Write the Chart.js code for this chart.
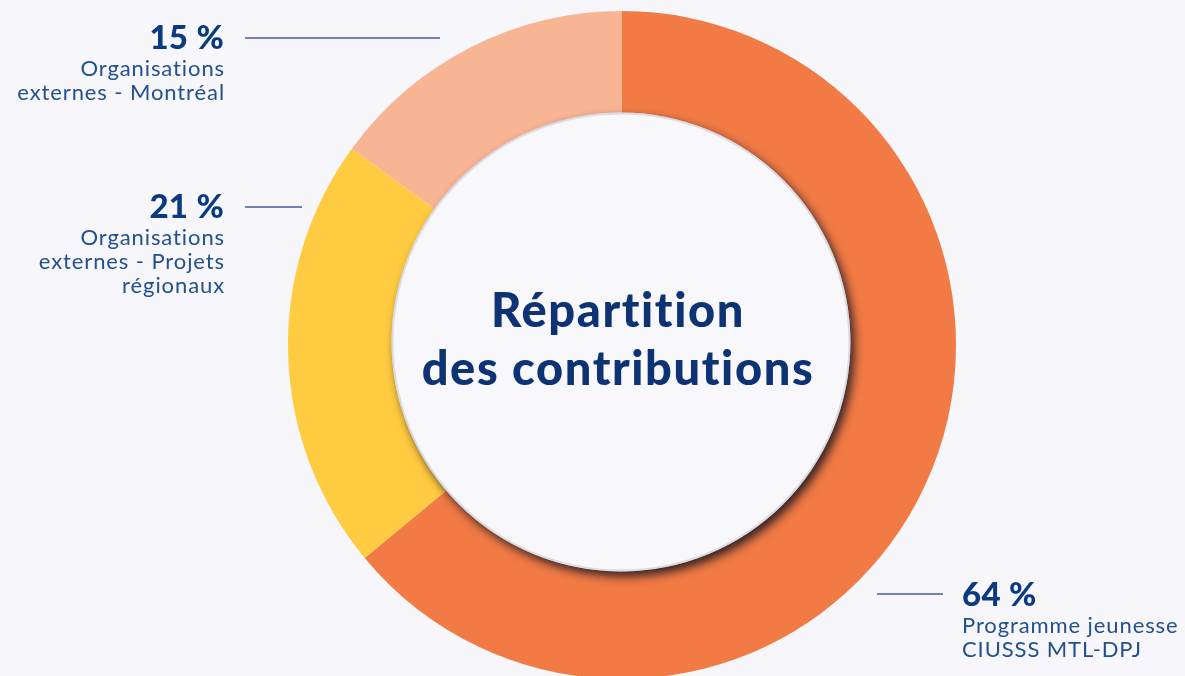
<!DOCTYPE html>
<html>
<head>
<meta charset="utf-8">
<script src="https://cdn.jsdelivr.net/npm/chart.js@4/dist/chart.umd.min.js"></script>
<style>
  html, body { margin:0; padding:0; background:#F6F6FB; overflow:hidden; }
  #wrap { position:relative; width:1185px; height:676px; overflow:hidden; background:#F6F6FB; }
  canvas { position:absolute; left:0; top:0; }
  .lbl { position:absolute; font-family:"Lato", sans-serif; white-space:nowrap; font-variant-ligatures:none; }
  .pct { font-weight:900; font-size:33px; line-height:33px; color:#0B3A80; letter-spacing:0.3px; }
  .desc { font-weight:400; font-size:22px; line-height:24px; color:#23508F; letter-spacing:0.9px; }
  .right { text-align:right; }
  .line { position:absolute; height:1.5px; background:#7282B4; }
  #title { position:absolute; left:368px; width:500px; top:280px; text-align:center; font-variant-ligatures:none;
           font-family:"Lato", sans-serif; font-weight:900; font-size:47px; line-height:58px; color:#0D3374; letter-spacing:1.6px; }
</style>
</head>
<body>
<div id="wrap">
  <canvas id="c" width="1185" height="700"></canvas>
  <div class="line" style="left:245px; top:37px; width:195px;"></div>
  <div class="line" style="left:245px; top:206px; width:57px;"></div>
  <div class="line" style="left:877px; top:593px; width:66px;"></div>
</div>
<script>
const categories = ["Programme jeunesse CIUSSS MTL-DPJ", "Organisations externes - Projets régionaux", "Organisations externes - Montréal"];
const percentLabels = ["64 %", "21 %", "15 %"];
const descLines = [["Programme jeunesse", "CIUSSS MTL-DPJ"], ["Organisations", "externes - Projets", "régionaux"], ["Organisations", "externes - Montréal"]];
const values = [64, 21, 15];
const colors = ["#F27A45", "#FFCB40", "#F8B594"];
const centerTitle = ["Répartition", "des contributions"];

const wrap = document.getElementById('wrap');
// label placement (layout only)
const labelPos = [
  {side:'left', x:962, top:577},
  {side:'right', x:224, top:189},
  {side:'right', x:224, top:20}
];
labelPos.forEach((p, i) => {
  const pct = document.createElement('div');
  pct.className = 'lbl pct' + (p.side === 'right' ? ' right' : '');
  pct.textContent = percentLabels[i];
  const desc = document.createElement('div');
  desc.className = 'lbl desc' + (p.side === 'right' ? ' right' : '');
  desc.innerHTML = descLines[i].join('<br>');
  if (p.side === 'right') {
    pct.style.right = (1185 - p.x) + 'px';
    desc.style.right = (1185 - p.x - 1) + 'px';
  } else {
    pct.style.left = p.x + 'px';
    desc.style.left = p.x + 'px';
  }
  pct.style.top = p.top + 'px';
  desc.style.top = (p.top + 36) + 'px';
  wrap.appendChild(pct);
  wrap.appendChild(desc);
});
const t = document.createElement('div');
t.id = 'title';
t.innerHTML = centerTitle.join('<br>');
wrap.appendChild(t);

const centerDisc = {
  id: 'centerDisc',
  afterDatasetsDraw(chart) {
    const meta = chart.getDatasetMeta(0);
    const arc = meta.data[0];
    const ctx = chart.ctx;
    const cx = arc.x - 1, cy = arc.y - 3;
    const r = arc.innerRadius + 4;
    ctx.save();
    ctx.beginPath();
    ctx.arc(cx, cy, r, 0, Math.PI * 2);
    ctx.shadowColor = 'rgba(20,20,30,0.85)';
    ctx.shadowBlur = 10;
    ctx.shadowOffsetX = 4;
    ctx.shadowOffsetY = 5;
    ctx.fillStyle = '#F7F7FC';
    ctx.fill();
    ctx.restore();
    ctx.save();
    ctx.beginPath();
    ctx.arc(cx, cy, r - 1, 0, Math.PI * 2);
    ctx.strokeStyle = 'rgba(200,200,210,0.6)';
    ctx.lineWidth = 2;
    ctx.stroke();
    ctx.restore();
  }
};

new Chart(document.getElementById('c'), {
  type: 'doughnut',
  data: {
    labels: categories,
    datasets: [{ data: values, backgroundColor: colors, borderWidth: 0 }]
  },
  options: {
    responsive: false,
    animation: false,
    cutout: '67.5%',
    layout: { padding: { top: 11, bottom: 21, left: 288, right: 229 } },
    plugins: { legend: { display: false }, tooltip: { enabled: false } }
  },
  plugins: [centerDisc]
});
</script>
</body>
</html>
